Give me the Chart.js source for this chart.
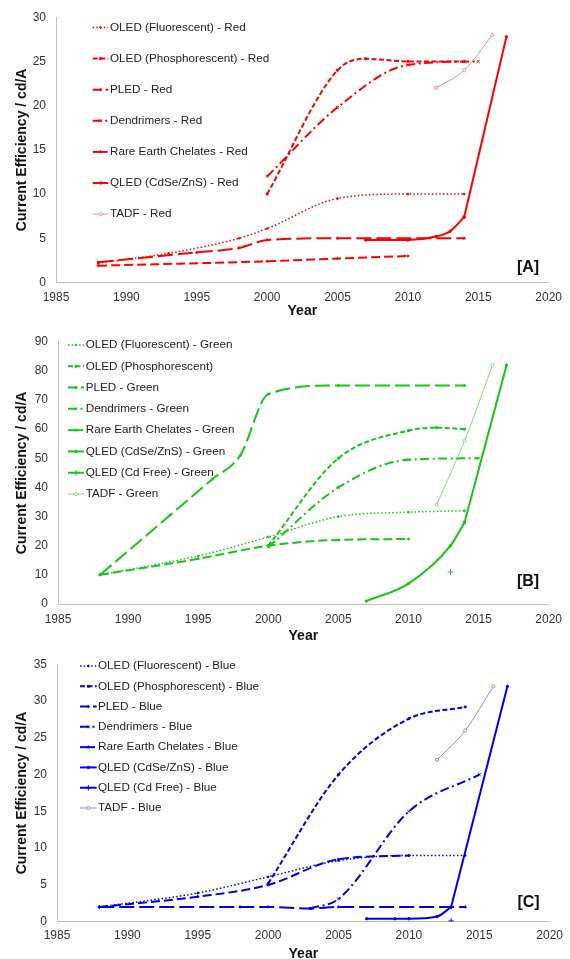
<!DOCTYPE html>
<html><head><meta charset="utf-8">
<script src="https://cdn.jsdelivr.net/npm/chart.js@4.4.1/dist/chart.umd.min.js"></script>
<style>
html,body{margin:0;padding:0;background:#fff;overflow:hidden;width:570px;height:959px;}
canvas{position:absolute;left:0;}
</style></head><body>
<canvas id="cA" width="570" height="320" style="top:0px"></canvas>
<canvas id="cB" width="570" height="325" style="top:320px"></canvas>
<canvas id="cC" width="570" height="326" style="top:640px"></canvas>
<script>
// ---------- tick labels ----------
const xTicks = [1985, 1990, 1995, 2000, 2005, 2010, 2015, 2020];
const yTicksA = [0, 5, 10, 15, 20, 25, 30];
const yTicksB = [0, 10, 20, 30, 40, 50, 60, 70, 80, 90];
const yTicksC = [0, 5, 10, 15, 20, 25, 30, 35];
const yTitle = 'Current Efficiency / cd/A';
const xTitle = 'Year';
const panelTags = ['[A]', '[B]', '[C]'];

// ---------- Panel A (red) ----------
const legendA = ['OLED (Fluorescent) - Red', 'OLED (Phosphorescent) - Red', 'PLED - Red', 'Dendrimers - Red',
  'Rare Earth Chelates - Red', 'QLED (CdSe/ZnS) - Red', 'TADF - Red'];
const redFluorYears = [1988, 1993, 1998, 2000, 2005, 2010, 2014];
const redFluorValues = [2.2, 3.3, 5.0, 6.1, 9.5, 10.0, 10.0];
const redPhosYears = [2000, 2005, 2007, 2010, 2014];
const redPhosValues = [10, 24, 25.3, 25, 25];
const redPledYears = [1988, 2000, 2005, 2010];
const redPledValues = [1.9, 2.4, 2.7, 3.0];
const redDendYears = [2000, 2005, 2010, 2015];
const redDendValues = [12, 19.8, 24.6, 25];
const redRareYears = [1988, 1995, 1998, 2000, 2005, 2014];
const redRareValues = [2.3, 3.4, 3.9, 4.8, 5.0, 5.0];
const redQledYears = [2007, 2010, 2012, 2013, 2014, 2017];
const redQledValues = [4.8, 4.8, 5.2, 5.8, 7.4, 27.8];
const redTadfYears = [2012, 2014, 2016];
const redTadfValues = [22, 24, 28];

// ---------- Panel B (green) ----------
const legendB = ['OLED (Fluorescent) - Green', 'OLED (Phosphorescent)', 'PLED - Green', 'Dendrimers - Green',
  'Rare Earth Chelates - Green', 'QLED (CdSe/ZnS) - Green', 'QLED (Cd Free) - Green', 'TADF - Green'];
const greenFluorYears = [1988, 1995, 2000, 2005, 2010, 2014];
const greenFluorValues = [10, 16.5, 23, 30, 31.5, 32];
const greenPhosYears = [2000, 2005, 2010, 2012, 2014];
const greenPhosValues = [20, 50, 59.5, 60.5, 60];
const greenPledYears = [1988, 1995, 2000, 2005, 2010];
const greenPledValues = [10, 15.5, 20, 22, 22.3];
const greenDendYears = [2000, 2005, 2010, 2015];
const greenDendValues = [19.5, 40, 49.5, 50];
const greenRareYears = [1988, 1993, 1996, 1998, 2000, 2005, 2014];
const greenRareValues = [10, 30.5, 42.8, 51, 72, 75, 75];
const greenQledYears = [2007, 2010, 2013, 2014, 2017];
const greenQledValues = [1, 7, 20, 28, 82];
const greenCdFreeYears = [2013];
const greenCdFreeValues = [11];
const greenTadfYears = [2012, 2014, 2016];
const greenTadfValues = [34, 56, 82];

// ---------- Panel C (blue) ----------
const legendC = ['OLED (Fluorescent) - Blue', 'OLED (Phosphorescent) - Blue', 'PLED - Blue', 'Dendrimers - Blue',
  'Rare Earth Chelates - Blue', 'QLED (CdSe/ZnS) - Blue', 'QLED (Cd Free) - Blue', 'TADF - Blue'];
const blueFluorYears = [1988, 1995, 2000, 2005, 2010, 2014];
const blueFluorValues = [2, 3.9, 6.1, 8.3, 9, 9];
const bluePhosYears = [2000, 2005, 2010, 2014];
const bluePhosValues = [5.2, 20, 27.6, 29.2];
const bluePledYears = [1988, 1995, 2000, 2005, 2010];
const bluePledValues = [2, 3.4, 5, 8.5, 9];
const blueDendYears = [2003, 2005, 2010, 2015];
const blueDendValues = [1.8, 3.1, 15, 20];
const blueRareYears = [1988, 1998, 2000, 2003, 2005, 2014];
const blueRareValues = [2, 2, 2, 1.8, 2, 2];
const blueQledYears = [2007, 2009, 2010, 2012, 2013, 2017];
const blueQledValues = [0.4, 0.4, 0.4, 0.7, 2, 32];
const blueCdFreeYears = [2013];
const blueCdFreeValues = [0.1];
const blueTadfYears = [2012, 2014, 2016];
const blueTadfValues = [22, 26, 32];

// ---------- styles ----------
const FONT = '"Liberation Sans", Arial, sans-serif';
Chart.defaults.font.family = FONT;
const STY = {
  fluor: { borderWidth: 1.5, borderDash: [1.5, 2.2], pointStyle: 'circle', pointRadius: 0.9 },
  phos:  { borderWidth: 2, borderDash: [5, 2.5], pointStyle: 'rect', pointRadius: 1.3 },
  pled:  { borderWidth: 2, borderDash: [9, 4], pointStyle: 'rectRot', pointRadius: 1.3 },
  dend:  { borderWidth: 2, borderDash: [9, 3.5, 2, 3.5], pointStyle: 'crossRot', pointRadius: 2 },
  rare:  { borderWidth: 2, borderDash: [15, 5], pointStyle: 'triangle', pointRadius: 1.4 },
  qled:  { borderWidth: 2, borderDash: [], pointStyle: 'circle', pointRadius: 1.2 },
  cdfree:{ borderWidth: 2, borderDash: [], pointStyle: 'cross', pointRadius: 2.8 },
  tadf:  { borderWidth: 1, borderDash: [], pointStyle: 'circle', pointRadius: 1.6, light: true }
};

function pts(xs, ys) { return xs.map((x, i) => ({ x: x, y: ys[i] })); }

function makeDs(label, type, color, light, xs, ys, straightFrom) {
  const s = STY[type];
  const c = s.light ? light : color;
  const base = {
    borderColor: c, backgroundColor: c,
    pointBackgroundColor: s.light ? '#ffffff' : c, pointBorderColor: c, pointBorderWidth: 1,
    borderWidth: s.borderWidth, borderDash: s.borderDash, pointStyle: s.pointStyle,
    pointRadius: s.pointRadius, pointHoverRadius: s.pointRadius,
    cubicInterpolationMode: 'monotone', fill: false, showLine: true
  };
  if (straightFrom === undefined) {
    return [Object.assign({}, base, { label: label, legendText: label, data: pts(xs, ys) })];
  }
  return [
    Object.assign({}, base, { label: label, legendText: label,
      data: pts(xs.slice(0, straightFrom + 1), ys.slice(0, straightFrom + 1)) }),
    Object.assign({}, base, { label: label + ' ', cubicInterpolationMode: 'default', tension: 0,
      data: pts(xs.slice(straightFrom), ys.slice(straightFrom)) })
  ];
}

const overlay = {
  id: 'overlay',
  afterDatasetsDraw(chart, args, o) {
    const ctx = chart.ctx;
    ctx.save();
    let i = 0;
    chart.data.datasets.forEach(ds => {
      if (!ds.legendText) return;
      const y = o.y0 + i * o.dy; i++;
      ctx.strokeStyle = ds.borderColor; ctx.lineWidth = ds.borderWidth;
      ctx.setLineDash(ds.borderDash || []);
      ctx.beginPath(); ctx.moveTo(o.x0, y); ctx.lineTo(o.x1, y); ctx.stroke();
      ctx.setLineDash([]);
      ctx.fillStyle = ds.pointBackgroundColor; ctx.strokeStyle = ds.pointBorderColor; ctx.lineWidth = 1;
      if (Chart.helpers && Chart.helpers.drawPoint) {
        Chart.helpers.drawPoint(ctx, { pointStyle: ds.pointStyle, radius: ds.pointRadius, rotation: 0, borderWidth: 1 }, (o.x0 + o.x1) / 2, y);
      }
      ctx.fillStyle = '#222'; ctx.font = o.font; ctx.textBaseline = 'middle'; ctx.textAlign = 'left';
      ctx.fillText(ds.legendText, o.tx, y);
    });
    ctx.font = 'bold 16px ' + FONT;
    ctx.textAlign = 'center'; ctx.textBaseline = 'middle'; ctx.fillStyle = '#111';
    ctx.fillText(o.tag, o.tagX, o.tagY);
    ctx.restore();
  }
};

function makeChart(id, datasets, yTicks, geo, leg) {
  const ymax = yTicks[yTicks.length - 1];
  return new Chart(document.getElementById(id), {
    type: 'line',
    data: { datasets: datasets },
    plugins: [overlay],
    options: {
      responsive: false, animation: false, events: [],
      layout: { padding: { left: 0, top: geo.top, right: geo.right, bottom: 0 } },
      plugins: { legend: { display: false }, tooltip: { enabled: false }, overlay: leg },
      scales: {
        x: {
          type: 'linear', min: xTicks[0], max: xTicks[xTicks.length - 1],
          afterBuildTicks: s => { s.ticks = xTicks.map(v => ({ value: v })); },
          afterFit: s => { s.height = geo.xh; },
          grid: { display: false, drawTicks: false },
          border: { display: true, color: '#bfbfbf', width: 1 },
          ticks: { callback: v => String(v), color: '#333', font: { size: 12 }, padding: geo.xpad, maxRotation: 0 },
          title: { display: true, text: xTitle, color: '#111', font: { size: 14, weight: 'bold', lineHeight: 1.2 },
                   padding: { top: 0, bottom: geo.xtb } }
        },
        y: {
          type: 'linear', min: 0, max: ymax,
          afterBuildTicks: s => { s.ticks = yTicks.map(v => ({ value: v })); },
          afterFit: s => { s.width = geo.yw; },
          grid: { display: false, drawTicks: false },
          border: { display: true, color: '#bfbfbf', width: 1 },
          ticks: { callback: v => String(v), color: '#333', font: { size: 12 }, padding: 10 },
          title: { display: true, text: yTitle, color: '#111', font: { size: 14, weight: 'bold', lineHeight: 1.2 },
                   padding: { top: 13.6, bottom: 0 } }
        }
      }
    }
  });
}

const RED = '#ff0000', RED_L = '#f48a8a';
const GREEN = '#14c814', GREEN_L = '#84dc84';
const BLUE = '#0000f0', BLUE_L = '#8a8af4';
const LFONT = '11.7px ' + FONT;

const dsA = [].concat(
  makeDs(legendA[0], 'fluor', RED, RED_L, redFluorYears, redFluorValues),
  makeDs(legendA[1], 'phos', RED, RED_L, redPhosYears, redPhosValues),
  makeDs(legendA[2], 'pled', RED, RED_L, redPledYears, redPledValues),
  makeDs(legendA[3], 'dend', RED, RED_L, redDendYears, redDendValues),
  makeDs(legendA[4], 'rare', RED, RED_L, redRareYears, redRareValues),
  makeDs(legendA[5], 'qled', RED, RED_L, redQledYears, redQledValues, 4),
  makeDs(legendA[6], 'tadf', RED, RED_L, redTadfYears, redTadfValues)
);
const dsB = [].concat(
  makeDs(legendB[0], 'fluor', GREEN, GREEN_L, greenFluorYears, greenFluorValues),
  makeDs(legendB[1], 'phos', GREEN, GREEN_L, greenPhosYears, greenPhosValues),
  makeDs(legendB[2], 'pled', GREEN, GREEN_L, greenPledYears, greenPledValues),
  makeDs(legendB[3], 'dend', GREEN, GREEN_L, greenDendYears, greenDendValues),
  makeDs(legendB[4], 'rare', GREEN, GREEN_L, greenRareYears, greenRareValues),
  makeDs(legendB[5], 'qled', GREEN, GREEN_L, greenQledYears, greenQledValues, 3),
  makeDs(legendB[6], 'cdfree', GREEN, GREEN_L, greenCdFreeYears, greenCdFreeValues),
  makeDs(legendB[7], 'tadf', GREEN, GREEN_L, greenTadfYears, greenTadfValues)
);
const dsC = [].concat(
  makeDs(legendC[0], 'fluor', BLUE, BLUE_L, blueFluorYears, blueFluorValues),
  makeDs(legendC[1], 'phos', BLUE, BLUE_L, bluePhosYears, bluePhosValues),
  makeDs(legendC[2], 'pled', BLUE, BLUE_L, bluePledYears, bluePledValues),
  makeDs(legendC[3], 'dend', BLUE, BLUE_L, blueDendYears, blueDendValues),
  makeDs(legendC[4], 'rare', BLUE, BLUE_L, blueRareYears, blueRareValues),
  makeDs(legendC[5], 'qled', BLUE, BLUE_L, blueQledYears, blueQledValues, 4),
  makeDs(legendC[6], 'cdfree', BLUE, BLUE_L, blueCdFreeYears, blueCdFreeValues),
  makeDs(legendC[7], 'tadf', BLUE, BLUE_L, blueTadfYears, blueTadfValues)
);

makeChart('cA', dsA, yTicksA,
  { top: 17, right: 21, xh: 37.5, yw: 56, xpad: 8, xtb: 0 },
  { x0: 92.7, x1: 108.3, tx: 110, y0: 27.5, dy: 31.1, font: LFONT, tag: panelTags[0], tagX: 528, tagY: 268 });
makeChart('cB', dsB, yTicksB,
  { top: 21.7, right: 16, xh: 41, yw: 58, xpad: 8, xtb: 0 },
  { x0: 68, x1: 84, tx: 85.7, y0: 25, dy: 21.29, font: LFONT, tag: panelTags[1], tagX: 528, tagY: 261.7 });
makeChart('cC', dsC, yTicksC,
  { top: 24.3, right: 18, xh: 44.3, yw: 57, xpad: 7, xtb: 3.6 },
  { x0: 80, x1: 96.7, tx: 98, y0: 26, dy: 20.29, font: LFONT, tag: panelTags[2], tagX: 528.5, tagY: 262.7 });
</script>
</body></html>
